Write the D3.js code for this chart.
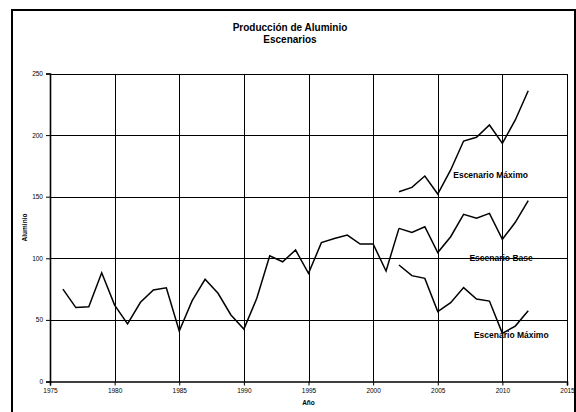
<!DOCTYPE html>
<html>
<head>
<meta charset="utf-8">
<script src="https://cdn.jsdelivr.net/npm/d3@7"></script>
<style>
  html, body { margin: 0; padding: 0; background: #fff; }
  svg { display: block; font-family: "Liberation Sans", Arial, sans-serif; }
</style>
</head>
<body>
<svg id="chart" width="576" height="412"></svg>
<script>
// Historical aluminium production
const histYears = [1976,1977,1978,1979,1980,1981,1982,1983,1984,1985,1986,1987,1988,1989,
                   1990,1991,1992,1993,1994,1995,1996,1997,1998,1999,2000,2001,2002];
const histValues = [75,60,60.7,88.3,62,46.7,64.3,74.3,76,41,65.6,83,71.6,54,
                    42.6,67.5,102,97.2,106.7,87.8,112.7,116,118.9,111.6,111.6,89.7,124.3];

// Projection scenarios
const scenYears = [2002,2003,2004,2005,2006,2007,2008,2009,2010,2011,2012];
const highValues = [154,157.6,166.8,152.2,171.7,195.2,198.2,208.2,193.3,212.3,236];
const baseValues = [124.3,121,125.6,104.7,117.5,135.7,132.5,136.5,115.4,129.2,146.8];
const lowValues  = [94.6,85.9,83.7,56.7,64,76.2,67,65.3,39.1,45,57.5];

// Axis ticks
const xTicks = [1975,1980,1985,1990,1995,2000,2005,2010,2015];
const yTicks = [0,50,100,150,200,250];

const titleLines = ["Producción de Aluminio", "Escenarios"];
const scenarioLabels = [
  { text: "Escenario Máximo", year: 2006.2, value: 165.4 },
  { text: "Escenario Base",   year: 2007.45, value: 97.8 },
  { text: "Escenario Máximo", year: 2007.8, value: 35.5 }
];

const svg = d3.select("#chart");

// Outer chart frame
svg.append("rect")
  .attr("x", 12).attr("y", 10)
  .attr("width", 563).attr("height", 410)
  .attr("fill", "#fff").attr("stroke", "#000").attr("stroke-width", 2);

const x = d3.scaleLinear().domain([1975, 2015]).range([50, 567]);
const y = d3.scaleLinear().domain([0, 250]).range([381.5, 73.5]);

// Gridlines
const grid = svg.append("g").attr("stroke", "#000").attr("stroke-width", 1).attr("shape-rendering", "crispEdges");
grid.selectAll("line.h").data(yTicks.filter(v => v > 0)).join("line")
  .attr("x1", x(1975)).attr("x2", x(2015))
  .attr("y1", d => Math.round(y(d)) + 0.5).attr("y2", d => Math.round(y(d)) + 0.5);
grid.selectAll("line.v").data(xTicks.filter(v => v > 1975)).join("line")
  .attr("x1", d => Math.round(x(d)) + 0.5).attr("x2", d => Math.round(x(d)) + 0.5)
  .attr("y1", y(250)).attr("y2", y(0));

// Axes
const yAxis = svg.append("g")
  .attr("transform", `translate(${x(1975)},0)`)
  .call(d3.axisLeft(y).tickValues(yTicks).tickSize(4).tickPadding(3));
const xAxis = svg.append("g")
  .attr("transform", `translate(0,${y(0)})`)
  .call(d3.axisBottom(x).tickValues(xTicks).tickFormat(d3.format("d")).tickSize(4).tickPadding(3));
[yAxis, xAxis].forEach(g => {
  g.select(".domain").attr("stroke", "#000").attr("stroke-width", 1.6);
  g.selectAll(".tick line").attr("stroke", "#000");
  g.selectAll(".tick text").attr("font-size", 6.5).attr("fill", "#000")
    .attr("font-family", "'Liberation Sans', Arial, sans-serif");
});

// Axis titles
svg.append("text")
  .attr("transform", `translate(27,${(y(0) + y(250)) / 2}) rotate(-90)`)
  .attr("text-anchor", "middle").attr("font-size", 6.5).attr("font-weight", "bold")
  .text("Aluminio");
svg.append("text")
  .attr("x", (x(1975) + x(2015)) / 2).attr("y", 405)
  .attr("text-anchor", "middle").attr("font-size", 6.5).attr("font-weight", "bold")
  .text("Año");

// Title
svg.append("g").selectAll("text").data(titleLines).join("text")
  .attr("x", 290).attr("y", (d, i) => 31 + i * 12)
  .attr("text-anchor", "middle").attr("font-size", 10).attr("font-weight", "bold")
  .text(d => d);

// Series lines
const line = d3.line().x(d => x(d[0])).y(d => y(d[1]));
const seriesData = [
  d3.zip(histYears, histValues),
  d3.zip(scenYears, highValues),
  d3.zip(scenYears, baseValues),
  d3.zip(scenYears, lowValues)
];
svg.append("g").selectAll("path").data(seriesData).join("path")
  .attr("d", line)
  .attr("fill", "none").attr("stroke", "#000").attr("stroke-width", 1.5)
  .attr("stroke-linejoin", "miter");

// Scenario labels
svg.append("g").selectAll("text").data(scenarioLabels).join("text")
  .attr("x", d => x(d.year)).attr("y", d => y(d.value))
  .attr("font-size", 8.5).attr("font-weight", "bold")
  .text(d => d.text);
</script>
</body>
</html>
